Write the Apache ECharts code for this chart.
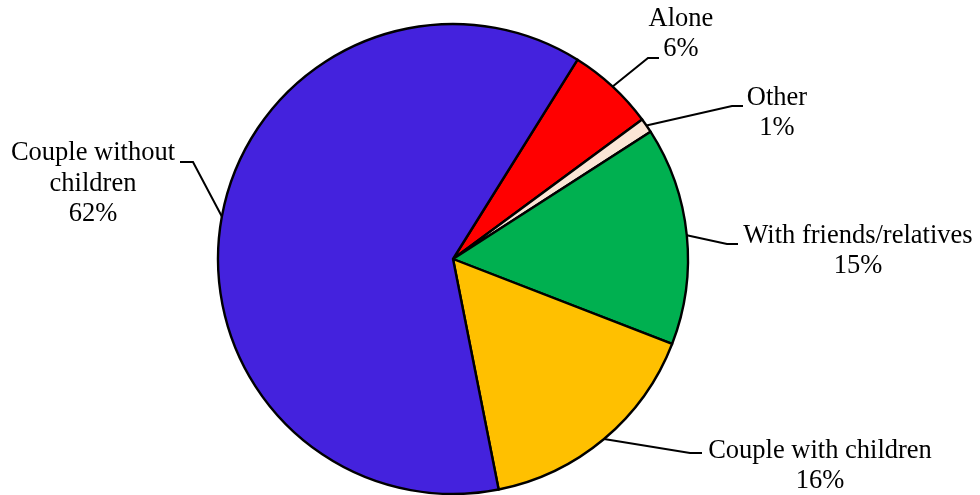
<!DOCTYPE html>
<html><head><meta charset="utf-8">
<script src="https://cdn.jsdelivr.net/npm/echarts@6/dist/echarts.min.js"></script>
<style>html,body{margin:0;padding:0;background:#fff}#c{width:980px;height:495px}</style>
</head><body><div id="c"></div>
<script>
// ---- data ----
const categories = ['Alone', 'Other', 'With friends/relatives', 'Couple with children', 'Couple without\nchildren'];
const values = [6, 1, 15, 16, 62];
// ---- styling / layout (not data) ----
const colors = ['#FF0000', '#FBE5D6', '#00B050', '#FFC000', '#4422DD'];
const labelCenters = [[681, 34], [777, 113], [858, 251], [820, 466], [93, 184]];
const lineBends = [[648, 58], [732, 106], [727, 244], [690, 453], [193, 162]];
const lineEnds = [[659, 58], [743, 106], [738, 244], [702, 453], [180, 162]];

const chart = echarts.init(document.getElementById('c'), null, {renderer: 'canvas'});
chart.setOption({
  animation: false,
  backgroundColor: '#ffffff',
  series: [{
    type: 'pie',
    center: [453, 259],
    radius: [0, 235],
    startAngle: 58,
    clockwise: true,
    avoidLabelOverlap: false,
    data: categories.map((n, i) => ({name: n, value: values[i], itemStyle: {color: colors[i]}})),
    itemStyle: {borderColor: '#000', borderWidth: 2.4},
    label: {
      show: true,
      position: 'outside',
      formatter: '{b}\n{d}%',
      fontFamily: 'Liberation Serif',
      fontSize: 26.5,
      lineHeight: 30.5,
      color: '#000',
      align: 'center'
    },
    labelLine: {show: true, length: 20, length2: 10, lineStyle: {color: '#000', width: 2}},
    emphasis: {disabled: true},
    labelLayout: function (p) {
      const i = p.dataIndex;
      const start = p.labelLinePoints ? p.labelLinePoints[0] : lineBends[i];
      return {
        x: labelCenters[i][0],
        y: labelCenters[i][1],
        align: 'center',
        verticalAlign: 'middle',
        labelLinePoints: [start, lineBends[i], lineEnds[i]]
      };
    }
  }]
});
</script></body></html>
